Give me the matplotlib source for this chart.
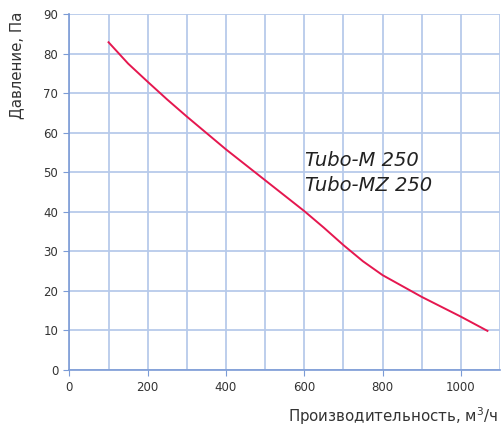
import matplotlib
matplotlib.use("Agg")
import matplotlib.pyplot as plt
from matplotlib.ticker import MultipleLocator

flow = [100, 150, 200, 250, 300, 400, 500, 600, 650, 700, 750, 800, 900, 1000, 1068]
pressure = [82.9, 77.5, 72.9, 68.4, 64.1, 55.8, 48.0, 40.2, 36.0, 31.6, 27.5, 24.0, 18.5, 13.5, 9.9]
labels = ["Tubo-M 250", "Tubo-MZ 250"]
xlabel = "Производительность, м$^3$/ч"
ylabel = "Давление, Па"

grid_c = "#b7caea"
spine_c = "#7b9bd6"
text_c = "#333333"

fig = plt.figure(figsize=(5.03, 4.30), dpi=100)
ax = fig.add_axes([0.138, 0.1395, 0.856, 0.8275])
ax.plot(flow, pressure, color="#e5174f", lw=1.4, zorder=3)

ax.set_xlim(0, 1100)
ax.set_ylim(0, 90)
ax.xaxis.set_major_locator(MultipleLocator(200))
ax.xaxis.set_minor_locator(MultipleLocator(100))
ax.yaxis.set_major_locator(MultipleLocator(10))
ax.grid(True, which="both", axis="x", color=grid_c, lw=1.3)
ax.grid(True, which="major", axis="y", color=grid_c, lw=1.3)
ax.tick_params(which="minor", length=0)
ax.tick_params(which="major", length=4, color=spine_c, labelsize=8.5, labelcolor=text_c, pad=4)
for s in ["top", "right"]:
    ax.spines[s].set_visible(False)
for s in ["left", "bottom"]:
    ax.spines[s].set_color(spine_c)
    ax.spines[s].set_linewidth(1.2)

ax.text(602, 53, labels[0], fontsize=14, style="italic", color="#222222", va="center")
ax.text(602, 46.6, labels[1], fontsize=14, style="italic", color="#222222", va="center")

fig.text(0.033, 0.972, ylabel, rotation=90, ha="center", va="top", fontsize=10.8, color=text_c)
fig.text(0.990, 0.018, xlabel, ha="right", va="baseline", fontsize=10.8, color=text_c)

fig.savefig("out.png", dpi=100)
